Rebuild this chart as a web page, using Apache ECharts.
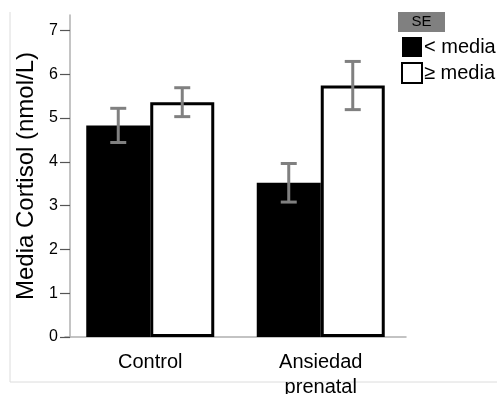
<!DOCTYPE html>
<html>
<head>
<meta charset="utf-8">
<script src="https://cdn.jsdelivr.net/npm/echarts@6/dist/echarts.min.js"></script>
<style>html,body{margin:0;padding:0;background:#fff}#c{width:497px;height:394px}</style>
</head>
<body>
<div id="c"></div>
<script>
var categories = ['Control', 'Ansiedad\nprenatal'];
var seriesNames = ['< media', '≥ media'];
var belowMean = [4.83, 3.52];
var aboveMean = [5.36, 5.74];
var belowSE = [0.39, 0.44];
var aboveSE = [0.33, 0.55];
var yTicks = [0, 1, 2, 3, 4, 5, 6, 7];

var FONT = '"Liberation Sans", Arial, sans-serif';
var BAR_W = 64;

function errData(vals, ses) {
  return vals.map(function (v, i) { return [i, v - ses[i], v + ses[i]]; });
}
function errRender(shift) {
  return function (params, api) {
    var hi = api.coord([api.value(0), api.value(2)]);
    var lo = api.coord([api.value(0), api.value(1)]);
    var x = hi[0] + shift;
    var style = { stroke: '#808080', lineWidth: 3, fill: null };
    var cap = 8;
    return {
      type: 'group',
      children: [
        { type: 'line', shape: { x1: x, y1: hi[1], x2: x, y2: lo[1] }, style: style },
        { type: 'line', shape: { x1: x - cap, y1: hi[1], x2: x + cap, y2: hi[1] }, style: style },
        { type: 'line', shape: { x1: x - cap, y1: lo[1], x2: x + cap, y2: lo[1] }, style: style }
      ]
    };
  };
}

var chart = echarts.init(document.getElementById('c'));
chart.setOption({
  animation: false,
  backgroundColor: '#fff',
  textStyle: { fontFamily: FONT },
  grid: { left: 65, top: 15, width: 341, bottom: 57, containLabel: false, outerBoundsMode: 'none' },
  legend: {
    orient: 'vertical', left: 396, top: 32,
    itemWidth: 20, itemHeight: 20, itemGap: 5,
    icon: 'rect',
    textStyle: { fontSize: 20, color: '#000', fontFamily: FONT, padding: [0, 0, 0, -3] },
    data: seriesNames
  },
  xAxis: {
    type: 'category', data: categories,
    axisLine: { lineStyle: { color: '#b0b0b0', width: 1.5 } },
    axisTick: { alignWithLabel: true, length: 10, lineStyle: { color: '#555', width: 1.2 } },
    axisLabel: { fontSize: 20, color: '#000', margin: 13, lineHeight: 25, fontFamily: FONT, interval: 0 }
  },
  yAxis: {
    type: 'value', min: 0, max: 7.35, offset: -5,
    name: 'Media Cortisol (nmol/L)', nameLocation: 'middle', nameGap: 28,
    nameTextStyle: { fontSize: 24, color: '#000', fontFamily: FONT },
    axisLine: { show: true, lineStyle: { color: '#b0b0b0', width: 1.5 } },
    axisTick: { show: true, length: 10, customValues: yTicks, lineStyle: { color: '#555', width: 1.2 } },
    axisLabel: { fontSize: 16, color: '#000', margin: 12, customValues: yTicks, fontFamily: FONT },
    splitLine: { show: false }
  },
  series: [
    { name: seriesNames[0], type: 'bar', data: belowMean, barWidth: BAR_W, barGap: '0%',
      itemStyle: { color: '#000', borderColor: '#000', borderWidth: 0 } },
    { name: seriesNames[1], type: 'bar', data: aboveMean, barWidth: BAR_W, barGap: '0%',
      itemStyle: { color: '#fff', borderColor: '#000', borderWidth: 3 } },
    { type: 'custom', data: errData(belowMean, belowSE), renderItem: errRender(-BAR_W / 2), z: 5 },
    { type: 'custom', data: errData(aboveMean, aboveSE), renderItem: errRender(BAR_W / 2), z: 5 }
  ],
  graphic: [
    { type: 'line', shape: { x1: 10, y1: 12, x2: 10, y2: 382 }, style: { stroke: '#dcdcdc', lineWidth: 1 }, z: -1 },
    { type: 'line', shape: { x1: 10, y1: 382, x2: 497, y2: 382 }, style: { stroke: '#dcdcdc', lineWidth: 1 }, z: -1 },
    { type: 'rect', shape: { x: 398, y: 12, width: 47, height: 20 }, style: { fill: '#808080' } },
    { type: 'text', x: 421.5, y: 22, style: { text: 'SE', fontSize: 15, fill: '#000', fontFamily: FONT, align: 'center', verticalAlign: 'middle' } }
  ]
});
</script>
</body>
</html>
